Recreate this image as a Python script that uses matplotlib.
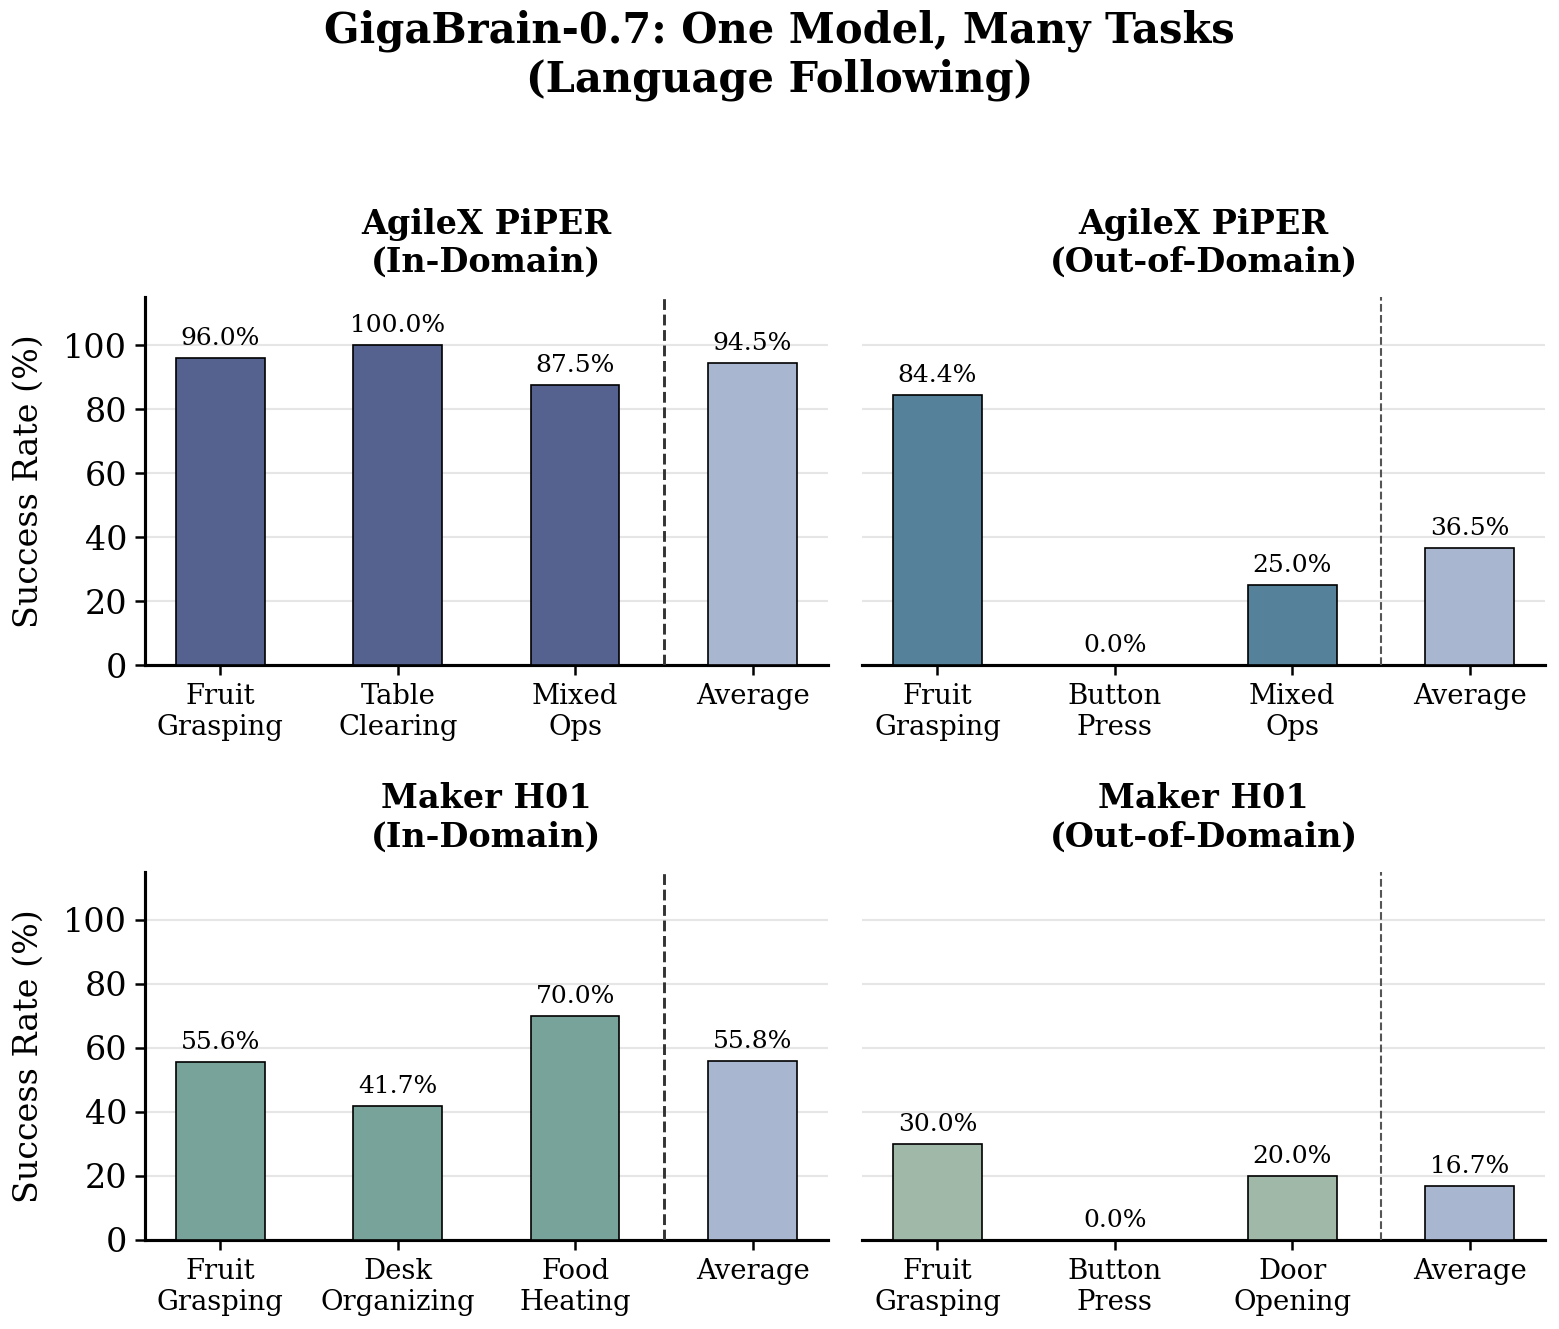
import numpy as np
import matplotlib.pyplot as plt

# ---------------------------------------------------------------------------
# DATA
# ---------------------------------------------------------------------------
PANEL_TITLES = ["AgileX PiPER\n(In-Domain)", "AgileX PiPER\n(Out-of-Domain)",
                "Maker H01\n(In-Domain)", "Maker H01\n(Out-of-Domain)"]
PIPER_ID_TASKS = ["Fruit\nGrasping", "Table\nClearing", "Mixed\nOps", "Average"]
PIPER_ID_VALS = [96.0, 100.0, 87.5, 94.5]
PIPER_OOD_TASKS = ["Fruit\nGrasping", "Button\nPress", "Mixed\nOps", "Average"]
PIPER_OOD_VALS = [84.4, 0.0, 25.0, 36.5]
H01_ID_TASKS = ["Fruit\nGrasping", "Desk\nOrganizing", "Food\nHeating", "Average"]
H01_ID_VALS = [55.6, 41.7, 70.0, 55.8]
H01_OOD_TASKS = ["Fruit\nGrasping", "Button\nPress", "Door\nOpening", "Average"]
H01_OOD_VALS = [30.0, 0.0, 20.0, 16.7]

TASK_COLORS = ["#55628F", "#55819B", "#78A39A", "#9FB8A8"]
AVG_COLOR = "#A9B6CF"

plt.rcParams["font.family"] = "DejaVu Serif"

fig, axes = plt.subplots(2, 2, figsize=(1559 / 150, 1329 / 150), dpi=150)
fig.subplots_adjust(left=0.093, right=0.991, top=0.7765, bottom=0.067,
                    hspace=0.56, wspace=0.05)

panels = [(PIPER_ID_TASKS, PIPER_ID_VALS), (PIPER_OOD_TASKS, PIPER_OOD_VALS),
          (H01_ID_TASKS, H01_ID_VALS), (H01_OOD_TASKS, H01_OOD_VALS)]

for i, (ax, (tasks, vals)) in enumerate(zip(axes.ravel(), panels)):
    x = np.arange(len(tasks))
    colors = [TASK_COLORS[i]] * (len(tasks) - 1) + [AVG_COLOR]
    ax.bar(x, vals, width=0.5, color=colors, edgecolor="black", linewidth=0.8,
           zorder=3)
    for xi, v in zip(x, vals):
        ax.text(xi, v + 2.5, f"{v:.1f}%", ha="center", va="bottom", fontsize=12)
    left_col = i % 2 == 0
    ax.axvline(2.5, ls="--", color="#333333" if left_col else "#555555",
               lw=1.4 if left_col else 1.0, zorder=4)
    ax.set_ylim(0, 115)
    ax.set_xticks(x)
    ax.set_xticklabels(tasks, fontsize=13.2)
    ax.set_yticks(range(0, 101, 20))
    ax.yaxis.grid(True, color="#E6E6E6", lw=1.0, zorder=0)
    ax.set_axisbelow(True)
    ax.set_title(PANEL_TITLES[i], fontsize=16, fontweight="bold", pad=12)
    ax.spines["top"].set_visible(False)
    ax.spines["right"].set_visible(False)
    ax.spines["bottom"].set_linewidth(1.5)
    ax.tick_params(axis="x", width=1.2, length=5)
    if left_col:
        ax.spines["left"].set_linewidth(1.5)
        ax.tick_params(axis="y", labelsize=16, width=1.2, length=5)
        ax.set_ylabel("Success Rate (%)", fontsize=16, labelpad=9)
    else:
        ax.spines["left"].set_visible(False)
        ax.tick_params(axis="y", left=False, labelleft=False)

fig.suptitle("GigaBrain-0.7: One Model, Many Tasks\n(Language Following)",
             fontsize=20, fontweight="bold", y=0.993)

fig.savefig("out.png", dpi=150)
